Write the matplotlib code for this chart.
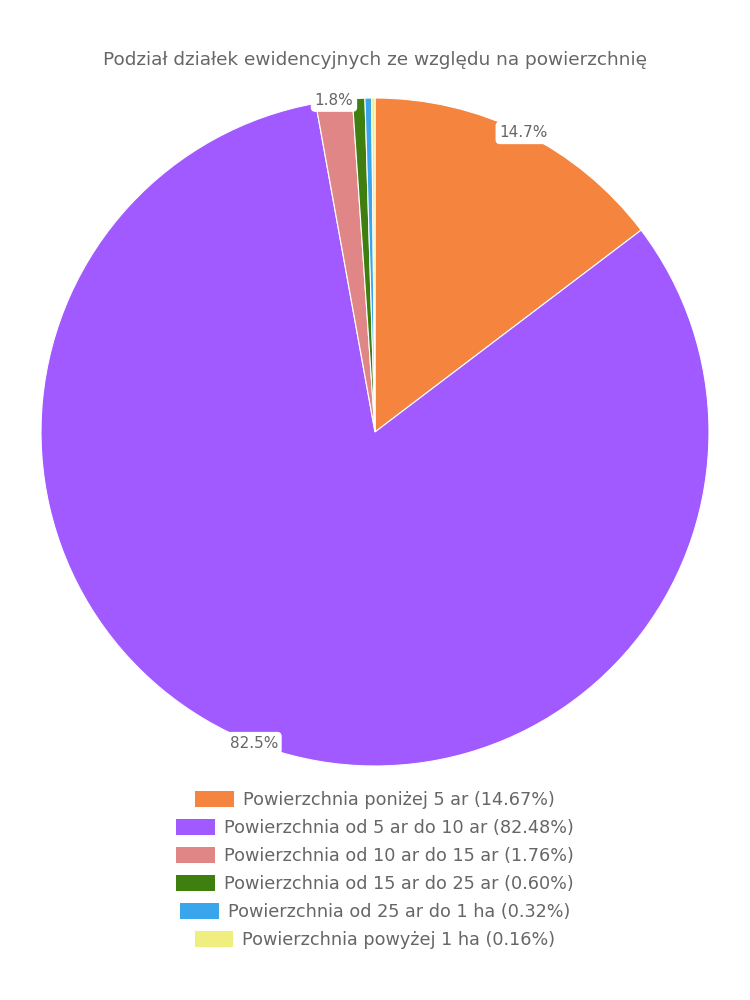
import matplotlib
matplotlib.use("Agg")
import matplotlib.pyplot as plt
from matplotlib.patches import Rectangle
import numpy as np

plt.rcParams['font.family'] = ['DejaVu Sans']

title = "Podział działek ewidencyjnych ze względu na powierzchnię"
categories = ["Powierzchnia poniżej 5 ar",
              "Powierzchnia od 5 ar do 10 ar",
              "Powierzchnia od 10 ar do 15 ar",
              "Powierzchnia od 15 ar do 25 ar",
              "Powierzchnia od 25 ar do 1 ha",
              "Powierzchnia powyżej 1 ha"]
shares = [14.67, 82.48, 1.76, 0.60, 0.32, 0.16]
colors = ['#f5843f', '#a15aff', '#e18686', '#3f7f0f', '#38a5ec', '#efee7e']
shown_labels = ["14.7%", "82.5%", "1.8%", "", "", ""]

text_col = '#666666'

fig = plt.figure(figsize=(7.5, 10), dpi=100)
ax = fig.add_axes([41/750, 234/1000, 668/750, 668/1000])
wedges, _ = ax.pie(shares, colors=colors, startangle=90, counterclock=False,
                   radius=1.0, wedgeprops=dict(edgecolor='white', linewidth=0.8))
ax.set_xlim(-1, 1)
ax.set_ylim(-1, 1)
ax.set_aspect('equal')
ax.axis('off')

for w, lab in zip(wedges, shown_labels):
    mid = np.deg2rad((w.theta1 + w.theta2) / 2)
    if lab:
        ax.text(np.cos(mid), np.sin(mid), lab, ha='center', va='center',
                fontsize=11, color=text_col,
                bbox=dict(boxstyle='round,pad=0.25,rounding_size=0.3',
                          fc='white', ec='none'))

fig.text(0.5, 1 - 60/1000, title, ha='center', va='center',
         fontsize=13.3, color=text_col)

# legend, each row centred on its own
row_y = [800, 828, 856, 884, 912, 940]
for cat, val, col, y in zip(categories, shares, colors, row_y):
    leg = fig.legend([Rectangle((0, 0), 1, 1, fc=col)],
                     [f"{cat} ({val:.2f}%)"],
                     loc='center', bbox_to_anchor=(0.5, 1 - y/1000),
                     frameon=False, fontsize=12.7, handlelength=2.2,
                     handleheight=1.0, handletextpad=0.5, borderpad=0)
    for t in leg.get_texts():
        t.set_color(text_col)

fig.savefig("out.png", dpi=100, facecolor='white')
